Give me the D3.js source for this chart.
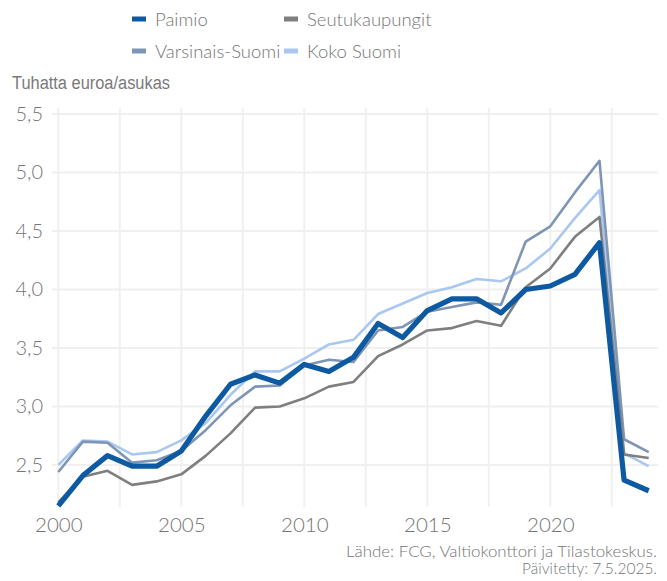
<!DOCTYPE html>
<html><head><meta charset="utf-8">
<script src="https://cdn.jsdelivr.net/npm/d3@7"></script>
<style>body{margin:0;background:#fff}svg{display:block}</style>
</head><body><svg id="c" width="667" height="581"></svg>
<script>
const years = d3.range(2000, 2025);
const paimio = [2.15,2.41,2.58,2.49,2.49,2.62,2.92,3.19,3.27,3.20,3.36,3.30,3.42,3.71,3.59,3.82,3.92,3.92,3.80,4.00,4.03,4.13,4.40,2.37,2.28];
const seutu = [2.18,2.40,2.45,2.33,2.36,2.42,2.58,2.77,2.99,3.00,3.07,3.17,3.21,3.43,3.53,3.65,3.67,3.73,3.69,4.02,4.18,4.45,4.62,2.59,2.56];
const varsinais = [2.44,2.70,2.69,2.52,2.54,2.62,2.80,3.01,3.17,3.18,3.35,3.40,3.38,3.65,3.68,3.81,3.85,3.89,3.87,4.41,4.54,4.83,5.10,2.72,2.61];
const koko = [2.50,2.71,2.70,2.59,2.61,2.71,2.86,3.10,3.30,3.30,3.41,3.53,3.57,3.79,3.88,3.97,4.02,4.09,4.07,4.18,4.35,4.61,4.85,2.60,2.49];
const yTicks = [2.5,3.0,3.5,4.0,4.5,5.0,5.5];
const xTicks = [2000,2005,2010,2015,2020];
const xGrid = [2000,2002.5,2005,2007.5,2010,2012.5,2015,2017.5,2020,2022.5];
const seriesNames = ["Paimio","Seutukaupungit","Varsinais-Suomi","Koko Suomi"];
const seriesData = [paimio, seutu, varsinais, koko];
const colors = ["#0e5aa2","#7f7f7f","#7f95b5","#a9c7f0"];
const widths = [5.2,2.6,2.6,2.6];

const svg = d3.select("#c");
const x = d3.scaleLinear().domain([2000,2024]).range([58.3,648.7]);
const y = d3.scaleLinear().domain([2.5,5.5]).range([465,114]);
const pL = 52, pR = 658, pT = 108, pB = 507;
const txt = "#757575";
const font = "Lato, 'Noto Sans', sans-serif";

// grid
svg.append("g").selectAll("line").data(yTicks).join("line")
  .attr("x1",pL).attr("x2",pR).attr("y1",d=>y(d)).attr("y2",d=>y(d))
  .attr("stroke","#f0f0f0").attr("stroke-width",2);
svg.append("g").selectAll("line").data(xGrid).join("line")
  .attr("x1",d=>x(d)).attr("x2",d=>x(d)).attr("y1",pT).attr("y2",pB)
  .attr("stroke","#f0f0f0").attr("stroke-width",2);

// axes labels via d3 axes
const yAxis = svg.append("g").attr("transform",`translate(${pL},0)`)
  .call(d3.axisLeft(y).tickValues(yTicks).tickSize(0).tickPadding(9).tickFormat(d=>d3.format(".1f")(d).replace(".",",")));
yAxis.select(".domain").remove();
yAxis.selectAll("text").attr("fill",txt).style("font-family",font).style("font-weight",300).style("font-size","20px");

const xAxis = svg.append("g").attr("transform",`translate(0,${pB})`)
  .call(d3.axisBottom(x).tickValues(xTicks).tickSize(0).tickPadding(10).tickFormat(d3.format("d")));
xAxis.select(".domain").remove();
xAxis.selectAll("text").attr("fill",txt).style("font-family",font).style("font-weight",300).style("font-size","20.5px");

// lines
const line = d3.line().x((d,i)=>x(years[i])).y(d=>y(d));
const order = [3,2,1,0];
svg.append("g").selectAll("path").data(order).join("path")
  .attr("d",i=>line(seriesData[i])).attr("fill","none")
  .attr("stroke",i=>colors[i]).attr("stroke-width",i=>widths[i])
  .attr("stroke-linejoin","round").attr("stroke-linecap","butt");

// y title
svg.append("text").attr("x",12).attr("y",89).text("Tuhatta euroa/asukas")
  .attr("textLength",158).attr("lengthAdjust","spacingAndGlyphs")
  .attr("fill","#7a7a7a").style("font-family","'Liberation Sans', Arial, sans-serif").style("font-size","18px");

// legend
const lx = [132, 284], ly = [19, 51];
seriesNames.forEach((n,i)=>{
  const cx = lx[i%2], cy = ly[Math.floor(i/2)];
  svg.append("rect").attr("x",cx).attr("y",cy-2.5).attr("width",14).attr("height",5).attr("fill",colors[i]);
  svg.append("text").attr("x",cx+23).attr("y",cy+7).text(n).attr("fill",txt)
    .style("font-family",font).style("font-weight",300).style("font-size","18.5px");
});

// caption
svg.append("text").attr("x",657).attr("y",557).attr("text-anchor","end")
  .attr("textLength",311).attr("lengthAdjust","spacingAndGlyphs")
  .text("Lähde: FCG, Valtiokonttori ja Tilastokeskus.").attr("fill",txt)
  .style("font-family",font).style("font-weight",300).style("font-size","15px");
svg.append("text").attr("x",657).attr("y",574).attr("text-anchor","end")
  .text("Päivitetty: 7.5.2025.").attr("fill",txt)
  .style("font-family",font).style("font-weight",300).style("font-size","15.5px");
</script></body></html>
